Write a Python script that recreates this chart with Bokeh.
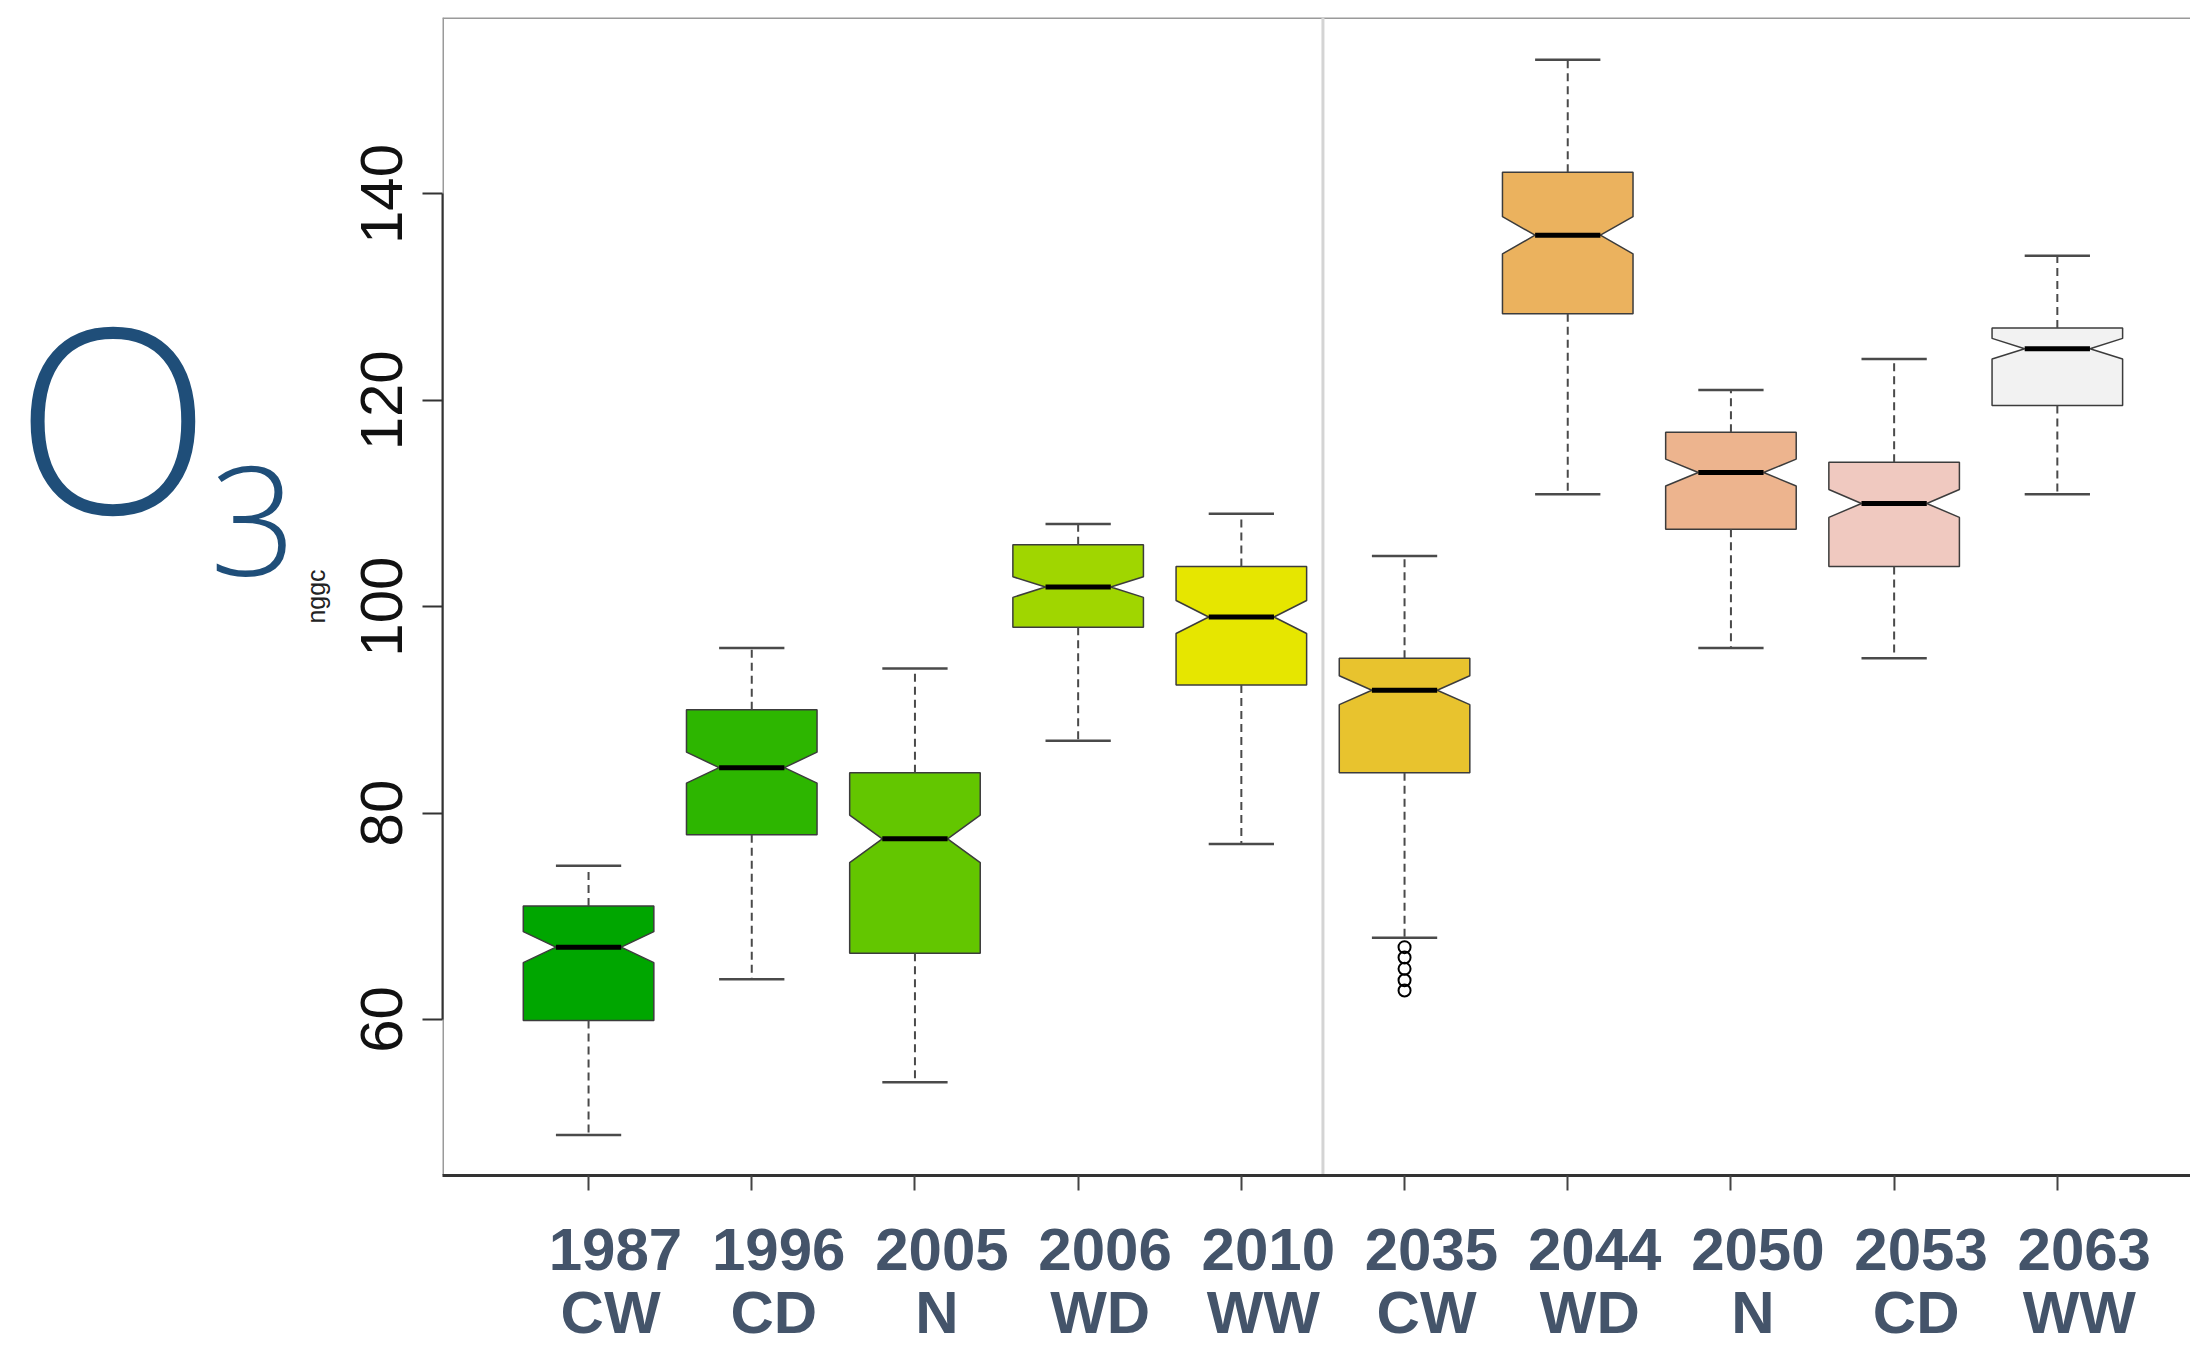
from bokeh.plotting import figure
from bokeh.models import Range1d, FixedTicker, Span, LinearAxis
from bokeh.embed import file_html
from bokeh.resources import INLINE

# ---- data ----
years = ["1987", "1996", "2005", "2006", "2010", "2035", "2044", "2050", "2053", "2063"]
codes = ["CW", "CD", "N", "WD", "WW", "CW", "WD", "N", "CD", "WW"]
whisker_low = [48.8, 63.9, 53.9, 87.0, 77.0, 67.9, 110.9, 96.0, 95.0, 110.9]
q1 = [59.9, 77.9, 66.4, 98.0, 92.4, 83.9, 128.4, 107.5, 103.9, 119.5]
median = [67.0, 84.4, 77.5, 101.9, 99.0, 91.9, 136.0, 113.0, 110.0, 125.0]
q3 = [71.0, 90.0, 83.9, 106.0, 103.9, 95.0, 142.1, 116.9, 114.0, 127.0]
whisker_high = [74.9, 96.0, 94.0, 108.0, 109.0, 104.9, 153.0, 121.0, 124.0, 134.0]
notch = [1.5, 1.5, 2.3, 1.0, 1.6, 1.4, 1.8, 1.3, 1.35, 1.0]
outlier_group = [6, 6, 6, 6, 6]
outlier_values = [67.0, 66.0, 64.9, 63.8, 62.8]
colors = ["#00A600", "#2DB600", "#63C600", "#A0D600", "#E6E600",
          "#E8C32E", "#EBB25E", "#EDB48E", "#F0C9C0", "#F2F2F2"]
y_ticks = [60, 80, 100, 120, 140]
positions = list(range(1, len(years) + 1))

# ---- layout constants ----
X0, X1 = 0.105, 10.816
Y0, Y1 = 44.87, 157.10
HALF = 0.4            # half box width
YEAR_SHIFT = 0.165    # category labels sit a little right of their ticks
CODE_SHIFT = 0.135
LABEL_COLOR = "#44546a"
TITLE_COLOR = "#1f4e79"

p = figure(width=2190, height=1348, output_backend="svg", toolbar_location=None,
           x_range=Range1d(X0, X1), y_range=Range1d(Y0, Y1),
           min_border_left=442, min_border_right=0, min_border_top=17,
           min_border_bottom=173)
p.grid.visible = False
p.outline_line_color = None
p.background_fill_color = "white"
p.border_fill_color = "white"

# frame lines
p.add_layout(Span(location=X0, dimension="height", line_color="#9a9a9a", line_width=3, level="underlay"))
p.add_layout(Span(location=Y1, dimension="width", line_color="#9a9a9a", line_width=3, level="underlay"))
p.add_layout(Span(location=5.5, dimension="height", line_color="#d4d4d4", line_width=3, level="underlay"))

# x axis (ticks only)
xa = p.xaxis[0]
xa.ticker = FixedTicker(ticks=positions)
xa.major_tick_out = 15
xa.major_tick_in = 0
xa.minor_tick_line_color = None
xa.axis_line_color = "#333333"
xa.axis_line_width = 3
xa.major_tick_line_color = "#444444"
xa.major_tick_line_width = 2
xa.major_label_text_color = None
xa.major_label_text_font_size = "0px"
xa.major_label_standoff = 0

# category labels: two more bottom axes, shifted slightly right of the ticks
p.extra_x_ranges = {
    "years": Range1d(X0 - YEAR_SHIFT, X1 - YEAR_SHIFT),
    "codes": Range1d(X0 - CODE_SHIFT, X1 - CODE_SHIFT),
}
for name, texts, standoff in (("years", years, 38), ("codes", codes, 6)):
    ax = LinearAxis(x_range_name=name, ticker=FixedTicker(ticks=positions),
                    major_label_overrides={i: t for i, t in zip(positions, texts)},
                    axis_line_color=None, major_tick_line_color=None, minor_tick_line_color=None,
                    major_tick_out=0, major_tick_in=0, major_label_standoff=standoff,
                    major_label_text_font="Liberation Sans", major_label_text_font_style="bold",
                    major_label_text_font_size="60px", major_label_text_color=LABEL_COLOR,
                    major_label_text_line_height=1.0)
    p.add_layout(ax, "below")

# y axis
ya = p.yaxis[0]
ya.ticker = FixedTicker(ticks=y_ticks)
ya.bounds = (y_ticks[0], y_ticks[-1])
ya.major_tick_out = 20
ya.major_tick_in = 0
ya.minor_tick_line_color = None
ya.axis_line_color = "#333333"
ya.axis_line_width = 2
ya.major_tick_line_color = "#333333"
ya.major_tick_line_width = 2
ya.major_label_orientation = "vertical"
ya.major_label_text_font = "Liberation Sans"
ya.major_label_text_font_size = "60px"
ya.major_label_text_color = "#111111"
ya.major_label_standoff = 20
ya.axis_label = "nggc"
ya.axis_label_text_font = "Liberation Sans"
ya.axis_label_text_font_style = "normal"
ya.axis_label_text_font_size = "25px"
ya.axis_label_text_color = "#222222"
ya.axis_label_standoff = 29

# "O3" title: two label-only axes on the left (ranges nudged for fine placement)
p.extra_y_ranges = {
    "sub3": Range1d(Y0 - 0.2, Y1 - 0.2),
    "bigO": Range1d(Y0 - 0.7, Y1 - 0.7),
}
ax3 = LinearAxis(y_range_name="sub3", ticker=FixedTicker(ticks=[108]), major_label_overrides={108: "3"},
                 axis_line_color=None, major_tick_line_color=None, minor_tick_line_color=None,
                 major_tick_out=0, major_tick_in=0, major_label_standoff=2,
                 major_label_text_font="Open Sans Light", major_label_text_font_size="152px",
                 major_label_text_color=TITLE_COLOR)
p.add_layout(ax3, "left")
axO = LinearAxis(y_range_name="bigO", ticker=FixedTicker(ticks=[118]), major_label_overrides={118: "O"},
                 axis_line_color=None, major_tick_line_color=None, minor_tick_line_color=None,
                 major_tick_out=0, major_tick_in=0, major_label_standoff=-5,
                 major_label_text_font="Open Sans Light", major_label_text_font_size="258px",
                 major_label_text_color=TITLE_COLOR)
p.add_layout(axO, "left")

# ---- notched boxes ----
xs, ys = [], []
for x, a, m, b, n in zip(positions, q1, median, q3, notch):
    xs.append([x - HALF, x - HALF, x - HALF / 2, x - HALF, x - HALF,
               x + HALF, x + HALF, x + HALF / 2, x + HALF, x + HALF])
    ys.append([a, m - n, m, m + n, b, b, m + n, m, m - n, a])
p.patches(xs, ys, fill_color=colors, line_color="#3c3c3c", line_width=1.5)

# whiskers (dashed)
p.segment(x0=positions, y0=q3, x1=positions, y1=whisker_high,
          line_color="#4a4a4a", line_width=2, line_dash="8 5")
p.segment(x0=positions, y0=q1, x1=positions, y1=whisker_low,
          line_color="#4a4a4a", line_width=2, line_dash="8 5")
# staples
p.segment(x0=[x - HALF / 2 for x in positions], y0=whisker_high,
          x1=[x + HALF / 2 for x in positions], y1=whisker_high,
          line_color="#4a4a4a", line_width=2.5)
p.segment(x0=[x - HALF / 2 for x in positions], y0=whisker_low,
          x1=[x + HALF / 2 for x in positions], y1=whisker_low,
          line_color="#4a4a4a", line_width=2.5)
# medians
p.segment(x0=[x - HALF / 2 for x in positions], y0=median,
          x1=[x + HALF / 2 for x in positions], y1=median,
          line_color="black", line_width=5, line_cap="butt")
# outliers
p.scatter(outlier_group, outlier_values, marker="circle", size=12,
          fill_color=None, line_color="black", line_width=2)

open("out.html", "w").write(file_html(p, INLINE))
